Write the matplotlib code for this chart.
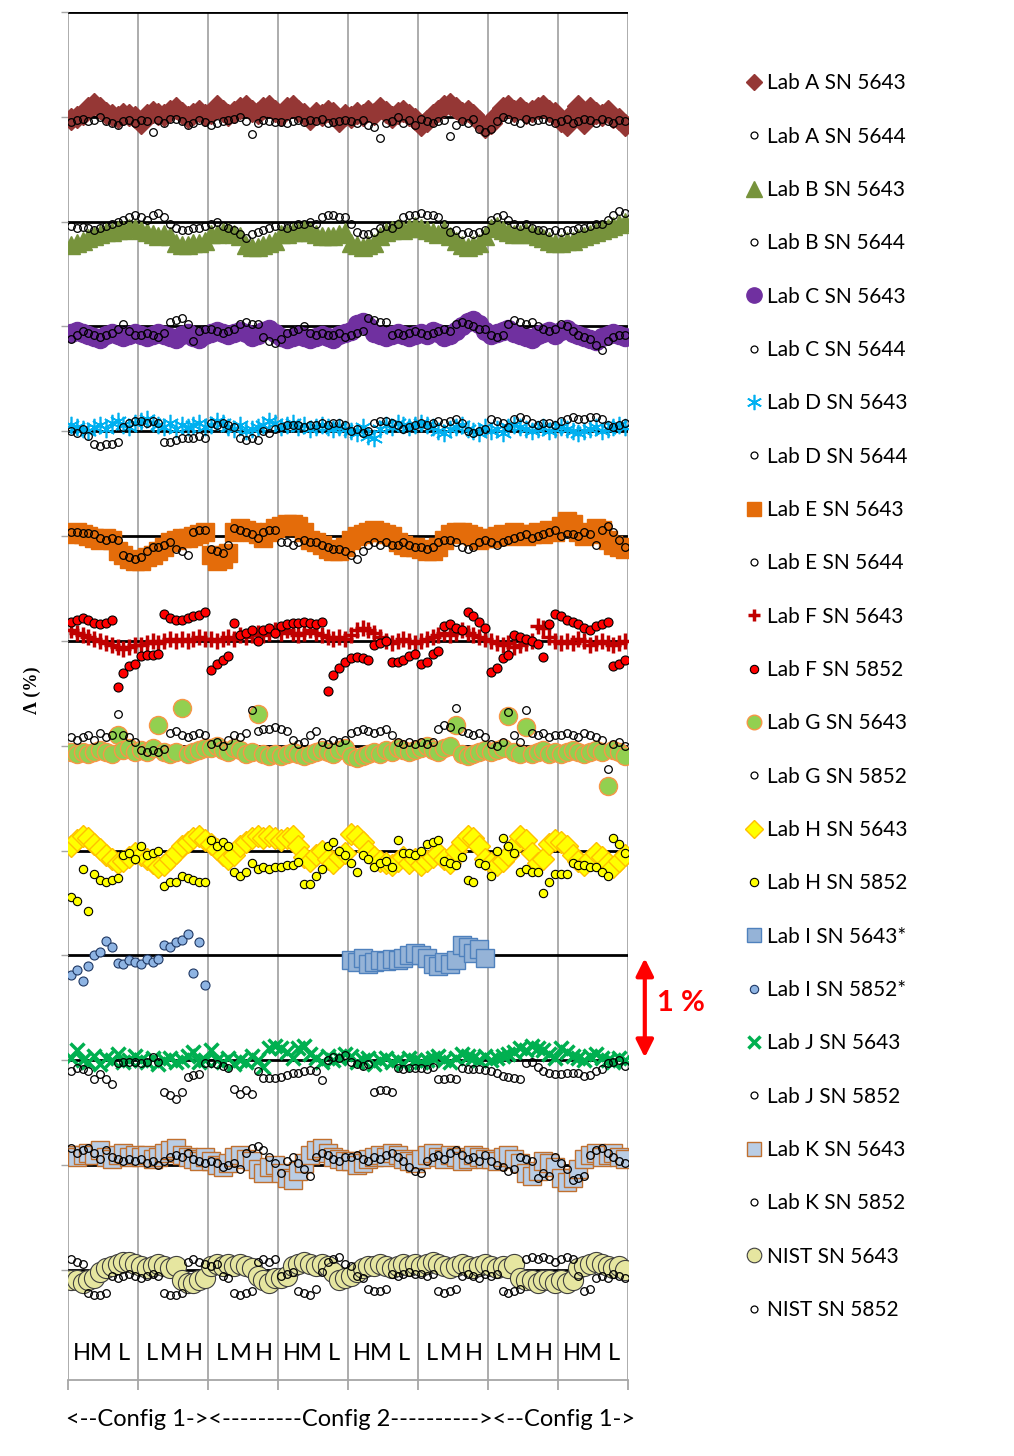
import numpy as np
import matplotlib.pyplot as plt
from matplotlib.lines import Line2D

# offsets from each lab's reference line, in 0.01 % units
# 8 blocks (H/M/L runs), 12 points per block
lab_a_5643 = [-2, 0, 3, 8, 12, 8, 4, 2, 0, 3, 2, 0,
              -6, 2, 5, 3, 2, 6, 8, 4, 0, 3, 6, 2,
              4, 10, 6, 2, 5, 8, 10, 6, 4, 8, 10, 6,
              2, 8, 10, 6, 3, -2, 4, 2, 6, 4, -4, 2,
              0, 4, 2, 6, 3, 8, 5, 0, 4, 6, 2, -2,
              -8, -4, 2, 6, 10, 12, 8, 4, 6, 2, -4, -10,
              -6, 2, 8, 10, 6, 8, 4, 6, 8, 10, 6, 4,
              -4, -8, 4, 10, -6, 8, 4, 2, 6, 0, -2, -8]
lab_a_5644 = [-5, -3, -2, -4, -3, 0, -4, -6, -8, -4, -3, -6,
              -3, -4, -14, -3, -6, -2, -2, -4, -8, -6, -3, -5,
              -8, -6, -4, -3, -2, 0, -4, -16, -6, -3, -4, -5,
              -5, -6, -4, -3, -5, -3, -4, -2, -6, -5, -4, -3,
              -4, -6, -3, -8, -10, -20, -6, -4, 0, -6, -3, -8,
              -2, -4, -6, -4, -3, -18, -8, -4, -6, -2, -12, -14,
              -12, -4, 0, -2, -4, -6, -2, -4, -3, -2, -4, -6,
              -4, -2, -6, -4, -2, -3, -6, -2, -4, -6, -3, -4]
lab_b_5643 = [-22, -20, -18, -16, -14, -12, -10, -10, -8, -8, -6, -6,
              -8, -10, -12, -14, -12, -14, -20, -22, -22, -20, -20, -18,
              -12, -12, -10, -10, -12, -14, -22, -24, -24, -22, -20, -18,
              -12, -12, -10, -10, -8, -10, -12, -14, -14, -14, -12, -10,
              -20, -22, -24, -22, -20, -14, -10, -8, -6, -8, -6, -4,
              -6, -8, -10, -12, -8, -14, -18, -22, -24, -22, -20, -14,
              -6, -4, -8, -10, -12, -12, -10, -12, -14, -16, -18, -20,
              -20, -18, -18, -16, -14, -12, -10, -8, -6, -4, -2, 0]
lab_b_5644 = [-4, -6, -5, -6, -8, -6, -4, -2, 0, 2, 4, 6,
              4, 2, 6, 8, 4, -2, -6, -8, -8, -6, -6, -4,
              -2, 0, -4, -6, -8, -12, -16, -12, -10, -8, -6, -4,
              -4, -6, -4, -2, -2, 0, -2, 4, 6, 6, 4, 4,
              -2, -10, -12, -12, -10, -6, -4, -6, -2, 4, 6, 6,
              8, 6, 6, 4, -2, -10, -8, -12, -10, -12, -10, -8,
              2, 4, 6, 2, -2, -4, -2, -6, -8, -8, -10, -8,
              -10, -8, -8, -6, -6, -4, -2, -2, 2, 6, 10, 8]
lab_c_5643 = [-6, -4, -6, -8, -10, -12, -8, -6, -8, -10, -8, -6,
              -8, -10, -8, -6, -8, -10, -12, -8, -6, -10, -12, -8,
              -6, -4, -6, -8, -6, -4, -6, -10, -8, -4, -2, -6,
              -10, -12, -10, -8, -10, -12, -10, -8, -10, -12, -8, -6,
              -4, 2, 4, 0, -6, -8, -10, -8, -6, -8, -10, -8,
              -6, -8, -4, -6, -10, -8, -4, 0, 4, 6, 2, -4,
              -8, -6, -4, -2, -6, -8, -10, -12, -8, -6, -4, -8,
              -4, -2, -6, -8, -10, -12, -14, -10, -8, -6, -8, -10]
lab_c_5644 = [-12, -8, -4, -6, -8, -10, -8, -6, -2, 2, -4, -8,
              -8, -6, -8, -10, -6, 4, 6, 8, 2, -14, -4, -2,
              -2, -4, -6, -4, -2, 2, 4, 2, 2, -10, -14, -16,
              -12, -6, -4, -2, 0, -6, -8, -6, -8, -8, -6, -10,
              -8, -6, -4, 8, 6, 4, 4, -8, -6, -8, -6, -4,
              -6, -8, -6, -4, -2, -4, 2, 4, 2, 0, -2, -2,
              -8, -10, -8, 2, 6, 4, 2, 4, 0, -2, -4, -2,
              2, 0, -4, -8, -10, -12, -18, -22, -14, -10, -8, -8]
lab_d_5643 = [6, 4, 2, 0, 4, 6, 2, 8, 10, 6, 4, 8,
              10, 12, 8, 6, 4, 8, 2, 6, 4, 6, 8, 4,
              6, 10, 8, 4, 2, 6, 0, 2, 4, 6, 10, 8,
              4, 6, 8, 4, 6, 2, 4, 6, 4, 2, 4, 2,
              0, -2, 4, -4, -6, 2, 6, 4, 8, 6, 4, 6,
              8, 6, 4, 0, -2, 2, 4, 6, 2, 0, -2, 4,
              0, 2, -2, 4, 6, 4, 2, 0, 2, 4, 0, 2,
              4, 2, 0, -2, 0, 2, 4, 0, 2, 4, 6, 4]
lab_d_5644 = [0, -2, 2, -4, -12, -14, -12, -12, -10, 4, 8, 10,
              10, 8, 10, 8, -10, -10, -8, -6, -6, -6, -4, -6,
              8, 6, 8, 6, 4, -6, -8, -6, -8, 0, -2, 2,
              4, 6, 6, 6, 4, 6, 6, 8, 6, 8, 8, 6,
              0, 2, -2, 0, 8, 10, 10, 8, 6, 2, 4, 6,
              8, 6, 8, 10, 8, 10, 12, 8, 0, -2, 0, 2,
              12, 10, 8, 4, 12, 14, 12, 8, 6, 8, 8, 6,
              10, 12, 14, 12, 12, 14, 14, 12, 6, 4, 6, 8]
lab_e_5643 = [2, 4, 2, 0, -2, -4, -2, -4, -14, -18, -22, -24,
              -24, -20, -18, -14, -10, -6, -4, -2, -2, 0, 2, 4,
              -18, -24, -22, -16, 4, 8, 6, 4, 2, -2, 4, 8,
              10, 12, 12, 10, 4, -4, -6, -8, -12, -14, -14, -10,
              -4, 0, 2, 4, 6, 4, 2, 0, -6, -8, -10, -10,
              -12, -14, -14, -10, -4, 2, 4, 4, 2, 0, -4, -2,
              -2, 0, 2, 0, 4, 2, 0, 2, 4, 2, 6, 4,
              10, 14, 12, 4, 0, 2, 8, 6, -4, -8, -10, -12]
lab_e_5644 = [4, 4, 3, 3, 2, -2, -4, -2, -4, -18, -20, -22,
              -20, -14, -10, -10, -8, -6, -12, -14, -18, 4, 6, 6,
              -12, -14, -16, -8, 8, 6, 4, 2, -2, 4, 6, 6,
              -6, -6, -8, -6, -4, -6, -6, -8, -10, -12, -12, -14,
              -18, -22, -14, -8, -6, -8, -6, -8, -8, -6, -8, -10,
              -10, -12, -10, -6, -4, -4, -6, -10, -12, -10, -6, -4,
              -6, -8, -6, -4, -2, 0, 2, -2, 0, 2, 4, 6,
              0, 2, 2, 0, 4, 2, -8, 6, 10, 4, -4, -10]
lab_f_5643 = [10, 8, 6, 4, 2, 0, -2, -4, -6, -8, -6, -4,
              -4, -2, 0, -2, 0, 2, 0, 2, 0, 2, 4, 2,
              2, 0, 2, 4, 2, 6, 4, 6, 8, 6, 8, 10,
              8, 10, 8, 6, 8, 10, 8, 6, 4, 2, 4, 2,
              6, 10, 12, 10, 8, 4, 0, -2, 0, 2, 0, -2,
              0, 2, 4, 6, 8, 6, 8, 10, 8, 6, 4, 2,
              0, -2, -4, -2, -6, -4, -2, 0, 14, 12, 4, 0,
              -2, 0, -2, 2, 0, -4, -2, 0, -2, -4, -2, 0]
lab_f_5852 = [18, 20, 22, 20, 17, 16, 17, 20, -44, -31, -24, -22,
              -14, -13, -13, -12, 26, 22, 20, 20, 22, 24, 25, 28,
              -28, -22, -18, -14, 17, 6, 8, 10, 0, 10, 12, 8,
              14, 16, 17, 17, 18, 17, 16, 18, -48, -32, -26, -20,
              -16, -15, -16, -18, -4, -2, 0, -20, -20, -18, -14, -12,
              -22, -20, -12, -10, 14, 16, 12, 10, 28, 24, 18, 12,
              -30, -26, -16, -13, 6, 4, 2, 0, -3, -15, 16, 26,
              24, 20, 18, 16, 12, 10, 14, 16, 18, -24, -22, -18]
lab_g_5643 = [-6, -8, -6, -8, -6, -4, -6, -8, 10, -4, -2, -6,
              -4, -6, -2, 20, -6, -8, -6, 36, -8, -6, -4, -2,
              -2, 0, -4, -6, -2, -4, -8, -6, 30, -8, -10, -8,
              -10, -8, -6, -8, -10, -8, -6, -4, -6, -8, -4, -2,
              -10, -12, -10, -8, -6, -8, -4, -6, -2, -4, -6, -4,
              -2, 0, -4, -6, -2, 0, 20, -8, -10, -8, -6, -4,
              -6, -4, -2, 28, -6, -8, 18, -8, -6, -4, -8, -6,
              -8, -6, -4, -6, -8, -6, -4, -6, -38, -4, -6, -10]
lab_g_5852 = [8, 6, 8, 10, 6, 12, 8, 10, 30, 10, 8, 4,
              -4, -6, -4, -6, -3, 12, 14, 10, 8, 10, 12, 10,
              2, 4, 0, 6, 10, 8, 12, 34, 14, 16, 16, 18,
              16, 14, 6, 2, 4, 10, 14, 4, 2, 6, 4, 6,
              12, 14, 16, 14, 12, 14, 16, 10, 4, 2, 4, 2,
              4, 2, 4, 16, 20, 18, 36, 14, 12, 10, 12, 8,
              2, 0, 4, 32, 10, 4, 34, 12, 10, 12, 8, 10,
              10, 12, 10, 8, 12, 10, 8, 6, -22, 2, 4, 0]
lab_h_5643 = [4, 10, 14, 12, 6, 2, -4, -8, -12, -10, -6, -2,
              -4, -8, -12, -16, -14, -8, -2, 4, 8, 12, 14, 10,
              6, 2, -4, -8, -4, 4, 8, 12, 14, 12, 14, 12,
              10, 12, 14, 4, -6, -10, -4, 0, -8, -12, -6, -2,
              16, 14, 8, 0, -6, -10, -12, -14, -10, -6, -12, -8,
              -14, -10, -6, -2, -8, -12, 0, 8, 14, 12, 4, -8,
              -12, -14, -10, -4, 4, 14, 10, -2, -12, -8, 6, 10,
              8, 4, -4, -10, -14, -8, -2, -6, -12, -16, -10, -4]
lab_h_5852 = [-44, -48, -18, -58, -22, -28, -30, -28, -26, -4, -2, -8,
              4, -4, -2, 0, -34, -30, -30, -24, -26, -28, -30, -30,
              10, 4, 8, 4, -20, -24, -20, -12, -18, -16, -18, -16,
              -16, -14, -14, -11, -32, -32, -24, -18, 4, 8, 0, -4,
              -12, -20, -4, -8, -16, -12, -10, -16, 10, -2, -2, -4,
              0, 6, 8, 10, -10, -12, -14, -6, -28, -30, -12, -14,
              -24, 0, 12, 4, -2, -20, -18, -20, -20, -40, -30, -22,
              -22, -22, -12, -14, -14, -16, -16, -20, -24, 12, 6, -2]
# Lab I only ran two blocks each
lab_i_5643 = [-4, -6, -2, -8, -6, -4, -5, -3, -4, -2, 0, 2,
              0, -2, -8, -10, -6, -8, -4, 10, 8, 2, 6, -2]
lab_i_5852 = [-19, -14, -24, -10, 0, 3, 14, 8, -7, -8, -4, -6,
              -8, -3, -6, -3, 10, 8, 13, 15, 20, -17, 13, -28]
lab_i_5643_start = 4   # first block index
lab_i_5852_start = 0
lab_j_5643 = [2, 10, 0, -2, 4, -4, 2, 0, 6, -2, 0, 4,
              0, -2, 2, -4, 0, 2, -2, 0, 4, 8, -2, 0,
              10, 0, -2, 2, -4, 0, -2, 4, 0, -6, 12, 14,
              12, 8, 2, 12, 14, 6, 2, -2, 4, 0, 2, 6,
              4, -2, 0, 2, -4, 0, 2, -2, 0, -4, 2, 0,
              -2, 0, 2, 4, 0, -2, 2, 6, 4, 2, 0, 4,
              0, 2, 4, 6, 8, 12, 10, 14, 12, 10, 6, 2,
              12, 8, 4, 2, 0, 4, 6, 2, 0, -2, 2, 0]
lab_j_5852 = [-10, -7, -8, -10, -18, -13, -18, -23, -3, -2, -2, -2,
              -3, -2, 3, -2, -30, -33, -37, -30, -16, -14, -13, -3,
              -3, -4, -5, -7, -27, -32, -28, -32, -10, -17, -17, -17,
              -16, -14, -12, -12, -10, -9, -10, -19, 0, 3, 2, 5,
              -2, -4, -5, -4, -30, -28, -28, -30, -7, -8, -7, -7,
              -7, -8, -6, -18, -18, -17, -18, -7, -8, -8, -8, -9,
              -10, -12, -15, -16, -17, -18, -3, -2, -6, -10, -12, -13,
              -13, -12, -12, -12, -15, -14, -10, -8, -3, -2, 0, -5]
lab_k_5643 = [10, 8, 10, 12, 10, 14, 8, 6, 10, 12, 8, 10,
              8, 10, 6, 8, 12, 14, 16, 10, 8, 6, 4, 8,
              4, 0, -2, 2, 8, 10, 6, 4, -4, -8, -2, 0,
              -8, -12, -14, -6, 2, 10, 14, 16, 12, 8, 6, 4,
              4, 0, 2, 6, 8, 10, 8, 12, 10, 6, 4, 2,
              6, 10, 12, 8, 6, 10, 8, 4, 6, 10, 8, 6,
              6, 4, 8, 10, 6, 2, -8, -10, -6, 4, 2, -2,
              -12, -16, -12, -4, 6, 10, 12, 8, 10, 12, 8, 6]
lab_k_5852 = [16, 12, 14, 16, 12, 6, 14, 8, 6, 4, 6, 4,
              6, 2, 4, 0, 4, 8, 10, 8, 12, 6, 4, 2,
              4, 2, -2, 0, 2, -4, 12, 16, 18, 14, 8, 2,
              -8, 4, 8, 2, -4, -10, 8, 12, 10, 6, 4, 8,
              8, 10, 6, 4, 8, 6, 10, 12, 8, 4, -2, -6,
              -8, 4, 8, 10, 6, 12, 14, 10, 6, 8, 4, 10,
              4, 0, -2, -6, -4, 8, 6, 4, -12, -8, -10, 8,
              2, -4, -14, -12, -10, 10, 14, 16, 12, 8, 4, 2]
nist_5643 = [-10, -10, -12, -10, -8, -2, 2, 4, 6, 8, 8, 6,
             4, 2, 4, 6, 4, 2, 4, -10, -12, -12, -10, -8,
             4, 6, 4, 6, 4, 6, 4, 2, -6, -10, -12, -8,
             -8, -6, 4, 6, 8, 6, 4, 6, 4, -2, -10, -8,
             -6, -2, 2, 4, 4, 6, 4, 2, 4, 6, 4, 6,
             4, 6, 8, 6, 4, 2, 4, 6, 4, 2, 4, 6,
             4, 2, 4, 2, 6, -8, -10, -10, -12, -10, -10, -12,
             -10, -12, -10, 2, 4, 6, 8, 6, 4, 2, 4, 0]
nist_5852 = [10, 8, 6, -22, -24, -24, -22, -6, -8, -6, -4, -6,
             -8, -6, -4, -6, -22, -24, -24, -22, 8, 10, 8, 6,
             4, 6, -6, -8, -22, -24, -22, -20, 8, 10, 8, 10,
             -6, -4, -2, -20, -22, -24, -18, -2, 8, 10, 12, 6,
             4, -6, -8, -18, -20, -20, -18, -4, -6, -4, -2, -4,
             -4, -6, -4, -20, -22, -20, -18, -6, -4, -6, -8, -4,
             -6, -4, -20, -22, -20, -18, 10, 12, 10, 12, 10, 8,
             10, 12, 10, -6, -20, -18, -8, -6, -8, -4, -6, -8]

block_labels = ["HML", "LMH", "LMH", "HML", "HML", "LMH", "LMH", "HML"]
config_text = "<--Config 1-><---------Config 2----------><--Config 1->"

n_blocks = 8
per_block = 12

open_c = dict(marker='o', ms=5.5, mfc='none', mec='black', mew=0.9)

# label, data, lab level, first block, style, legend marker size
series = [
    ("Lab A SN 5643", lab_a_5643, 11, 0, dict(marker='D', ms=11, mfc='#953735', mec='#953735'), 8.5),
    ("Lab A SN 5644", lab_a_5644, 11, 0, open_c, 5),
    ("Lab B SN 5643", lab_b_5643, 10, 0, dict(marker='^', ms=12.5, mfc='#77933C', mec='#77933C'), 11),
    ("Lab B SN 5644", lab_b_5644, 10, 0, open_c, 5),
    ("Lab C SN 5643", lab_c_5643, 9, 0, dict(marker='o', ms=13, mfc='#7030A0', mec='#7030A0'), 11),
    ("Lab C SN 5644", lab_c_5644, 9, 0, open_c, 5),
    ("Lab D SN 5643", lab_d_5643, 8, 0, dict(marker=(6, 2, 0), ms=12.5, mfc='#00B0F0', mec='#00B0F0', mew=1.2), 11),
    ("Lab D SN 5644", lab_d_5644, 8, 0, open_c, 5),
    ("Lab E SN 5643", lab_e_5643, 7, 0, dict(marker='s', ms=13, mfc='#E46C0A', mec='#E46C0A'), 10.5),
    ("Lab E SN 5644", lab_e_5644, 7, 0, open_c, 5),
    ("Lab F SN 5643", lab_f_5643, 6, 0, dict(marker='+', ms=11, mec='#C00000', mew=2.5), 9),
    ("Lab F SN 5852", lab_f_5852, 6, 0, dict(marker='o', ms=6.5, mfc='#FF0000', mec='black', mew=0.8), 6),
    ("Lab G SN 5643", lab_g_5643, 5, 0, dict(marker='o', ms=13, mfc='#92D050', mec='#F79646', mew=1), 10.5),
    ("Lab G SN 5852", lab_g_5852, 5, 0, open_c, 5),
    ("Lab H SN 5643", lab_h_5643, 4, 0, dict(marker='D', ms=11.5, mfc='#FFFF00', mec='#FFC000', mew=1), 9),
    ("Lab H SN 5852", lab_h_5852, 4, 0, dict(marker='o', ms=6, mfc='#FFFF00', mec='black', mew=0.8), 6),
    ("Lab I SN 5643*", lab_i_5643, 3, lab_i_5643_start, dict(marker='s', ms=12.5, mfc='#95B3D7', mec='#4F81BD', mew=1), 10.5),
    ("Lab I SN 5852*", lab_i_5852, 3, lab_i_5852_start, dict(marker='o', ms=6.5, mfc='#8EB4E3', mec='#1F3864', mew=0.8), 6),
    ("Lab J SN 5643", lab_j_5643, 2, 0, dict(marker='x', ms=10.5, mec='#00B050', mew=2.5), 9),
    ("Lab J SN 5852", lab_j_5852, 2, 0, open_c, 5),
    ("Lab K SN 5643", lab_k_5643, 1, 0, dict(marker='s', ms=12.5, mfc='#B9CDE5', mec='#C0702F', mew=1), 10.5),
    ("Lab K SN 5852", lab_k_5852, 1, 0, open_c, 5),
    ("NIST SN 5643", nist_5643, 0, 0, dict(marker='o', ms=14.5, mfc='#E6E6A0', mec='#3F3F3F', mew=0.8), 10.5),
    ("NIST SN 5852", nist_5852, 0, 0, open_c, 5),
]

W, H = 1014, 1456
fig = plt.figure(figsize=(W / 100, H / 100), dpi=100)
ax = fig.add_axes([68 / W, 1 - 1380 / H, 560 / W, 1368 / H])

ax.set_xlim(0, n_blocks * per_block)
ax.set_ylim(-1.05, 12)

# grid
for k in range(n_blocks + 1):
    ax.axvline(k * per_block, color='#A6A6A6', lw=1.3, zorder=1)
for lvl in range(13):
    ax.axhline(lvl, color='black', lw=2, zorder=1.5)

handles = []
for name, vals, lvl, start, st, leg_ms in series:
    v = np.array(vals, dtype=float)
    x = start * per_block + np.arange(len(v)) + 0.5
    ax.plot(x, lvl + v / 100.0, ls='none', zorder=3, **st)
    hst = dict(st)
    hst['ms'] = leg_ms
    handles.append(Line2D([], [], ls='none', label=name, **hst))

# H / M / L block letters
for k, lab in enumerate(block_labels):
    for frac, ch in zip([0.2, 0.47, 0.8], lab):
        ax.text(k * per_block + frac * per_block, -0.8, ch, ha='center', va='center',
                fontsize=17, family='Lato')

ax.set_xticks([k * per_block for k in range(n_blocks + 1)])
ax.set_yticks(range(13))
ax.set_xticklabels([])
ax.set_yticklabels([])
ax.tick_params(axis='x', length=7, color='#A6A6A6', width=1.3)
ax.tick_params(axis='y', length=5, color='#A6A6A6', width=1)
for s in ['top', 'right', 'left']:
    ax.spines[s].set_visible(False)
ax.spines['bottom'].set_color('#A6A6A6')
ax.spines['bottom'].set_linewidth(1.3)

# 1 % scale arrow
ax.annotate('', xy=(1.03, 3.0), xytext=(1.03, 2.0),
            xycoords=('axes fraction', 'data'), annotation_clip=False,
            arrowprops=dict(arrowstyle='<|-|>', color='red', lw=3, mutation_scale=26))
ax.text(1.095, 2.55, '1 %', transform=ax.get_yaxis_transform(), color='red',
        fontsize=21, fontweight='bold', ha='center', va='center', family='Lato')

fig.text(32 / W, 1 - 690 / H, 'Λ (%)', rotation=90, fontsize=13, fontweight='bold',
         family='Liberation Serif', ha='center', va='center')
fig.text(350 / W, 1 - 1420 / H, config_text, fontsize=17, family='Lato',
         ha='center', va='center')

fig.legend(handles=handles, loc='upper left', bbox_to_anchor=(733 / W, 1 - 63 / H),
           frameon=False, prop={'family': 'Lato', 'size': 15},
           labelspacing=1.6, handlelength=1.0, handletextpad=0.15, borderpad=0)

fig.savefig('out.png', dpi=100)
